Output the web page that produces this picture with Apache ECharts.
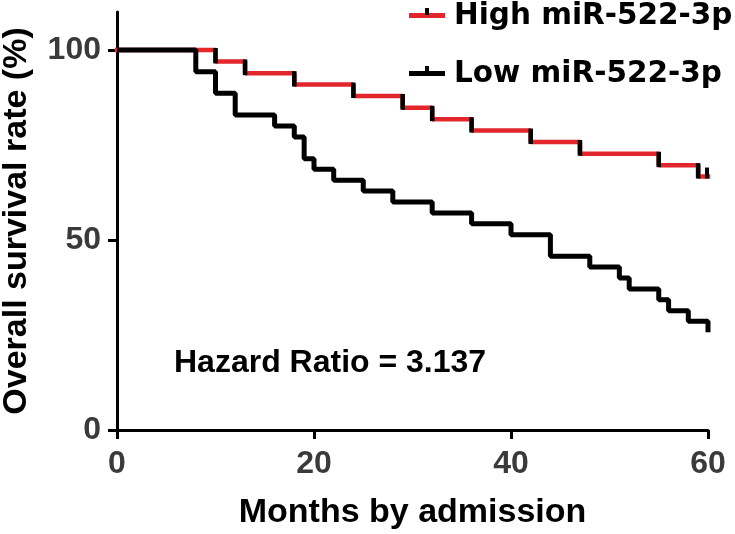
<!DOCTYPE html>
<html>
<head>
<meta charset="utf-8">
<script src="https://cdn.jsdelivr.net/npm/echarts@6/dist/echarts.min.js"></script>
<style>html,body{margin:0;padding:0;background:#fff}#c{width:735px;height:534px}</style>
</head>
<body>
<div id="c"></div>
<script>
// ---- data ----
const highName = 'High miR-522-3p';
const lowName = 'Low miR-522-3p';
const highTimes = [0, 10, 13, 18, 24, 29, 32, 36, 42, 47, 55, 59, 60];
const highSurv  = [100, 97.0, 93.9, 90.9, 87.9, 84.8, 81.8, 78.8, 75.8, 72.7, 69.7, 66.7, 66.7];
const highCensorTimes = [60];
const highCensorSurv  = [66.7];
const lowTimes = [0, 8, 10, 12, 16, 18, 19, 20, 22, 25, 28, 32, 36, 40, 44, 48, 51, 52, 55, 56, 58, 60];
const lowSurv  = [100, 94.3, 88.6, 82.9, 80.0, 77.1, 71.4, 68.6, 65.7, 62.9, 60.0, 57.1, 54.3, 51.4, 45.7, 42.9, 40.0, 37.1, 34.3, 31.4, 28.6, 25.7];
const xTicks = [0, 20, 40, 60];
const yTicks = [0, 50, 100];
const annotation = 'Hazard Ratio = 3.137';
const xTitle = 'Months by admission';
const yTitle = 'Overall survival rate (%)';

// ---- derived ----
const highData = highTimes.map((t, i) => [t, highSurv[i]]);
const lowData = lowTimes.map((t, i) => [t, lowSurv[i]]);
const highDrops = [];
for (let i = 1; i < highTimes.length; i++) {
  if (highSurv[i] < highSurv[i - 1]) highDrops.push([highTimes[i], highSurv[i - 1], highSurv[i]]);
}
const highCensor = highCensorTimes.map((t, i) => [t, highCensorSurv[i]]);

const RED = '#e3262b';
const BLACK = '#000000';
const FONT = '"Liberation Sans", Arial, Helvetica, sans-serif';

function iconSvg(lineColor) {
  const svg = '<svg xmlns="http://www.w3.org/2000/svg" width="40" height="16" viewBox="0 0 40 16">' +
    '<rect x="0" y="5" width="36" height="5" fill="' + lineColor + '"/>' +
    '<rect x="16" y="0" width="4" height="7" fill="#000"/></svg>';
  return 'image://data:image/svg+xml;charset=utf-8,' + encodeURIComponent(svg);
}

const chart = echarts.init(document.getElementById('c'), null, {renderer: 'canvas'});
chart.setOption({
  animation: false,
  backgroundColor: '#ffffff',
  grid: {left: 117, right: 27, top: 12, bottom: 104, containLabel: false, outerBoundsMode: 'none'},
  legend: {
    orient: 'vertical',
    left: 409,
    top: 1,
    padding: 0,
    itemWidth: 40,
    itemHeight: 16,
    itemGap: 28,
    textStyle: {fontFamily: '"DejaVu Sans", sans-serif', fontWeight: 'bold', fontSize: 29.5, color: '#000'},
    data: [
      {name: highName, icon: iconSvg(RED)},
      {name: lowName, icon: iconSvg(BLACK)}
    ]
  },
  xAxis: {
    type: 'value',
    min: 0,
    max: 60,
    interval: 20,
    name: xTitle,
    nameLocation: 'middle',
    nameGap: 66,
    nameTextStyle: {fontFamily: FONT, fontWeight: 'bold', fontSize: 34, color: '#000'},
    axisLine: {show: true, onZero: false, lineStyle: {color: '#000', width: 3}},
    axisTick: {show: true, length: 9, lineStyle: {color: '#000', width: 3}, customValues: xTicks},
    axisLabel: {fontFamily: FONT, fontWeight: 'bold', fontSize: 32, color: '#3a3a3a', margin: 18, customValues: xTicks},
    splitLine: {show: false}
  },
  yAxis: {
    type: 'value',
    min: 0,
    max: 110,
    name: yTitle,
    nameLocation: 'middle',
    nameGap: 83,
    nameRotate: 90,
    nameTextStyle: {fontFamily: FONT, fontWeight: 'bold', fontSize: 34, color: '#000'},
    axisLine: {show: true, onZero: false, lineStyle: {color: '#000', width: 3}},
    axisTick: {show: true, length: 9, lineStyle: {color: '#000', width: 3}, customValues: yTicks},
    axisLabel: {fontFamily: FONT, fontWeight: 'bold', fontSize: 32, color: '#3a3a3a', margin: 16, customValues: yTicks},
    splitLine: {show: false}
  },
  series: [
    {
      name: highName,
      type: 'line',
      step: 'end',
      data: highData,
      symbol: 'none',
      color: RED,
      lineStyle: {color: RED, width: 4.5, cap: 'square'},
      z: 3
    },
    {
      name: 'high-drops',
      type: 'custom',
      data: highDrops,
      encode: {x: 0, y: [1, 2]},
      silent: true,
      z: 4,
      renderItem: function (params, api) {
        const a = api.coord([api.value(0), api.value(1)]);
        const b = api.coord([api.value(0), api.value(2)]);
        return {type: 'line', shape: {x1: a[0], y1: a[1] - 2, x2: b[0], y2: b[1] + 2},
          style: {stroke: BLACK, lineWidth: 4.5}};
      }
    },
    {
      name: 'high-censor',
      type: 'custom',
      data: highCensor,
      encode: {x: 0, y: 1},
      silent: true,
      z: 4,
      renderItem: function (params, api) {
        const a = api.coord([api.value(0), api.value(1)]);
        return {type: 'line', shape: {x1: a[0] - 1, y1: a[1] + 2, x2: a[0] - 1, y2: a[1] - 9},
          style: {stroke: BLACK, lineWidth: 4}};
      }
    },
    {
      name: lowName,
      type: 'line',
      step: 'end',
      data: lowData,
      symbol: 'none',
      color: BLACK,
      lineStyle: {color: BLACK, width: 5},
      z: 5
    }
  ],
  graphic: [
    {
      type: 'text',
      left: 174,
      top: 347,
      style: {text: annotation, fontFamily: FONT, fontWeight: 'bold', fontSize: 32, fill: '#000'}
    }
  ]
});
</script>
</body>
</html>
